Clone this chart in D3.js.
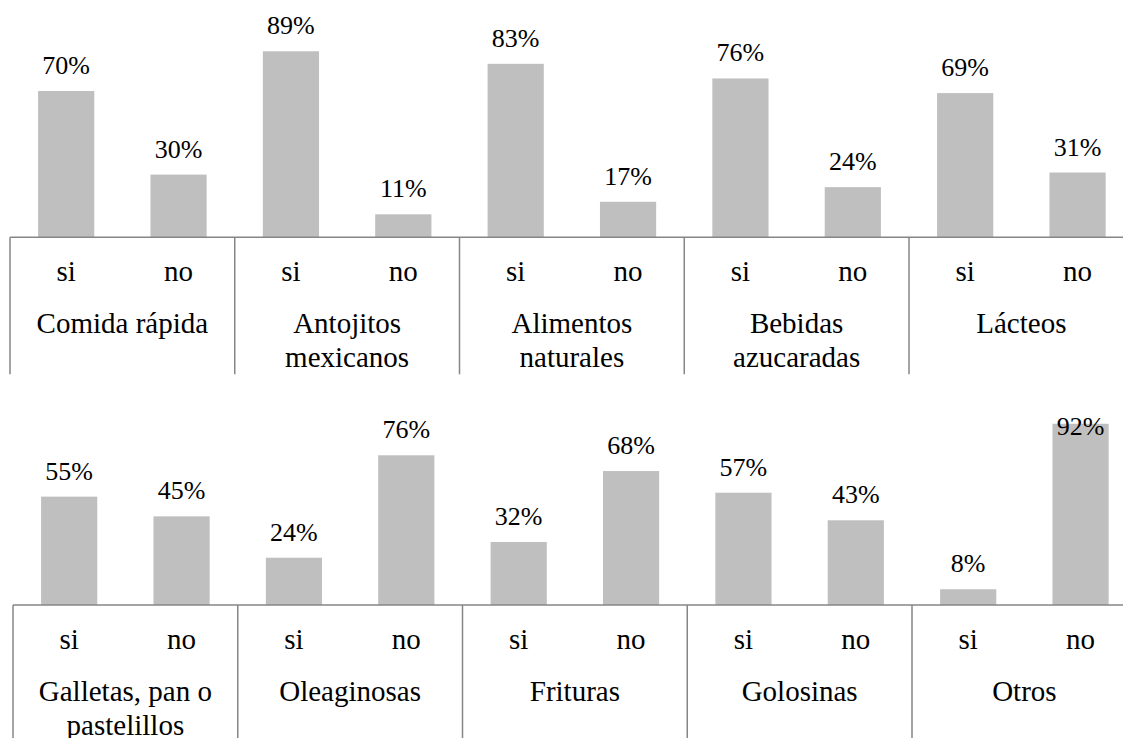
<!DOCTYPE html>
<html>
<head>
<meta charset="utf-8">
<script src="https://cdn.jsdelivr.net/npm/d3@7"></script>
<style>
    body { margin: 0; background: #fff; }
    svg { display: block; }
</style>
</head>
<body>
<div id="chart"></div>
<script>
// top row
var categoriesTop = ['Comida rápida', 'Antojitos mexicanos', 'Alimentos naturales', 'Bebidas azucaradas', 'Lácteos'];
var siTop = [70, 89, 83, 76, 69];
var noTop = [30, 11, 17, 24, 31];

// bottom row
var categoriesBottom = ['Galletas, pan o pastelillos', 'Oleaginosas', 'Frituras', 'Golosinas', 'Otros'];
var siBottom = [55, 24, 32, 57, 8];
var noBottom = [45, 76, 68, 43, 92];

var answers = ['si', 'no'];

var W = 1123, H = 738;
var groupW = 224.75;
var FONT = "'Times New Roman', 'Liberation Serif', Times, serif";

var svg = d3.select('#chart')
    .append('svg')
    .attr('width', W)
    .attr('height', H)
    .attr('font-family', FONT);

function drawPanel(cats, si, no, opt) {
    var g = svg.append('g');

    var rows = cats.map(function(c, i) {
        return { cat: c, values: [{ k: 'si', v: si[i] }, { k: 'no', v: no[i] }] };
    });

    var x0 = d3.scaleBand()
        .domain(cats)
        .range([opt.left, opt.left + groupW * cats.length])
        .paddingInner(0)
        .paddingOuter(0);

    var x1 = d3.scaleBand()
        .domain(answers)
        .range([0, x0.bandwidth()])
        .paddingInner(0.5)
        .paddingOuter(0.25);

    var y = d3.scaleLinear()
        .domain([0, 100])
        .range([opt.axisY, opt.axisY - opt.plotH]);

    var groups = g.selectAll('g.grp')
        .data(rows)
        .enter()
        .append('g')
        .attr('class', 'grp')
        .attr('transform', function(d) { return 'translate(' + x0(d.cat) + ',0)'; });

    // bars
    groups.selectAll('rect')
        .data(function(d) { return d.values; })
        .enter()
        .append('rect')
        .attr('fill', '#bfbfbf')
        .attr('x', function(d) { return x1(d.k); })
        .attr('width', x1.bandwidth())
        .attr('y', function(d) { return y(d.v); })
        .attr('height', function(d) { return opt.axisY - y(d.v); });

    // value labels
    groups.selectAll('text.val')
        .data(function(d) { return d.values; })
        .enter()
        .append('text')
        .attr('class', 'val')
        .attr('text-anchor', 'middle')
        .style('font-family', FONT)
        .style('font-size', '26px')
        .attr('x', function(d) { return x1(d.k) + x1.bandwidth() / 2; })
        .attr('y', function(d) { return Math.max(y(d.v) - 17, opt.labelMinY); })
        .text(function(d) { return d.v + '%'; });

    // si / no labels
    groups.selectAll('text.ans')
        .data(answers)
        .enter()
        .append('text')
        .attr('class', 'ans')
        .attr('text-anchor', 'middle')
        .style('font-family', FONT)
        .style('font-size', '29px')
        .attr('x', function(d) { return x1(d) + x1.bandwidth() / 2; })
        .attr('y', opt.axisY + 44)
        .text(function(d) { return d; });

    // category labels, wrapped like the original
    groups.append('text')
        .attr('class', 'cat')
        .attr('text-anchor', 'middle')
        .style('font-family', FONT)
        .style('font-size', '29px')
        .attr('y', opt.axisY + 96)
        .each(function(d) {
            var t = d3.select(this);
            var words = d.cat.split(' ');
            var lines = [];
            var cur = '';
            var probe = t.append('tspan');
            words.forEach(function(w) {
                var test = cur ? cur + ' ' + w : w;
                probe.text(test);
                if (probe.node().getComputedTextLength() > 205 && cur) {
                    lines.push(cur);
                    cur = w;
                } else {
                    cur = test;
                }
            });
            lines.push(cur);
            probe.remove();
            lines.forEach(function(l, i) {
                t.append('tspan')
                    .attr('x', groupW / 2)
                    .attr('dy', i === 0 ? 0 : 34)
                    .text(l);
            });
        });

    // category separators
    var bounds = cats.map(function(c) { return x0(c); });
    bounds.push(x0.range()[1]);
    g.selectAll('line.sep')
        .data(bounds)
        .enter()
        .append('line')
        .attr('class', 'sep')
        .attr('x1', function(d) { return d; })
        .attr('x2', function(d) { return d; })
        .attr('y1', opt.axisY)
        .attr('y2', opt.axisY + opt.sepLen)
        .attr('stroke', '#868686')
        .attr('stroke-width', 1.5);

    // axis line
    g.append('line')
        .attr('x1', opt.left)
        .attr('x2', x0.range()[1])
        .attr('y1', opt.axisY)
        .attr('y2', opt.axisY)
        .attr('stroke', '#868686')
        .attr('stroke-width', 1.5);
}

drawPanel(categoriesTop, siTop, noTop, {
    left: 10, axisY: 237.3, plotH: 209, sepLen: 137, labelMinY: 0
});

drawPanel(categoriesBottom, siBottom, noBottom, {
    left: 13, axisY: 605, plotH: 197, sepLen: 140, labelMinY: 435
});
</script>
</body>
</html>
